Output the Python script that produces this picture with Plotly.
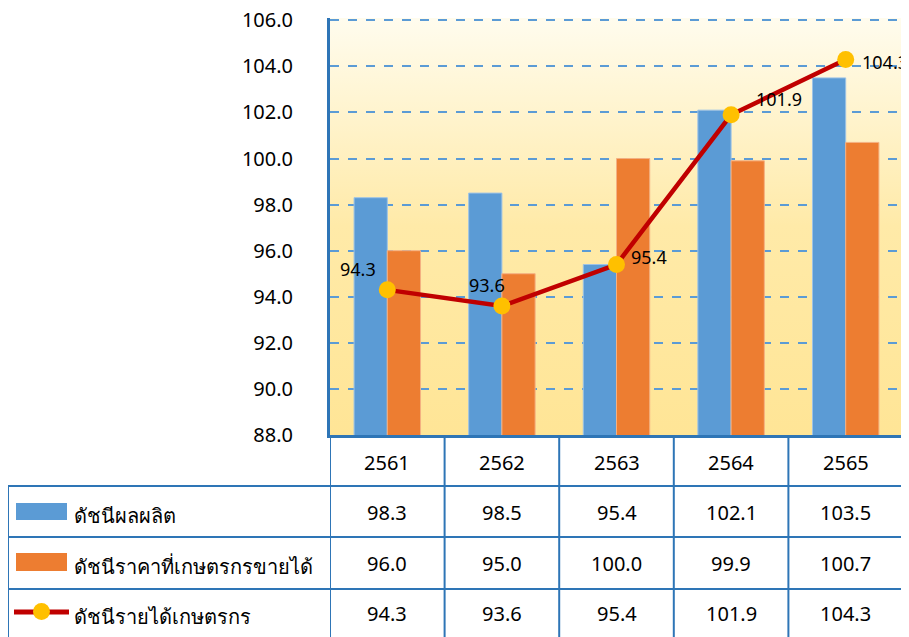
import base64
import plotly.graph_objects as go

years = ["2561", "2562", "2563", "2564", "2565"]
production = [98.3, 98.5, 95.4, 102.1, 103.5]
price = [96.0, 95.0, 100.0, 99.9, 100.7]
income = [94.3, 93.6, 95.4, 101.9, 104.3]
series_names = ["ดัชนีผลผลิต", "ดัชนีราคาที่เกษตรกรขายได้", "ดัชนีรายได้เกษตรกร"]
y_ticks = [88, 90, 92, 94, 96, 98, 100, 102, 104, 106]
y_range = [88, 106.1]

# label offsets (px) for the income labels
label_dx = [-29, -15, 32, 48, 39]
label_dy = [-21, -21, -8, -16, 3]

OFF = 8  # page body margin
W, H = 909 - OFF, 637 - OFF
ML, MT = 330 - OFF, 18 - OFF
MR = W - (903 - OFF)
MB = H - (435 - OFF)
PW, PH = W - ML - MR, H - MT - MB

def px(x):
    return (x - OFF - ML) / PW

def py(y):
    return (H - MB - (y - OFF)) / PH

BLUE = "#5B9BD5"
ORANGE = "#ED7D31"
RED = "#C00000"
YEL = "#FFC000"
BORDER = "#2E75B6"
FONT = "Tahoma, 'Noto Sans', sans-serif"

svg = (
    '<svg xmlns="http://www.w3.org/2000/svg" width="100" height="100" preserveAspectRatio="none">'
    '<defs><linearGradient id="g" x1="0" y1="0" x2="0" y2="1">'
    '<stop offset="0" stop-color="#FFFCEE"/>'
    '<stop offset="0.5" stop-color="#FFEAA8"/>'
    '<stop offset="1" stop-color="#FFE596"/>'
    '</linearGradient></defs>'
    '<rect width="100" height="100" fill="url(#g)"/></svg>'
)
svg_uri = "data:image/svg+xml;base64," + base64.b64encode(svg.encode()).decode()

fig = go.Figure()
fig.add_trace(go.Bar(x=years, y=production, name=series_names[0], marker_color=BLUE,
                     marker_line=dict(color="#9DC3E6", width=1)))
fig.add_trace(go.Bar(x=years, y=price, name=series_names[1], marker_color=ORANGE,
                     marker_line=dict(color="#F4B183", width=1)))
fig.add_trace(go.Scatter(x=years, y=income, name=series_names[2], mode="lines+markers",
                         line=dict(color=RED, width=4.5),
                         marker=dict(color=YEL, size=17)))

for i, v in enumerate(income):
    fig.add_annotation(x=i, y=v, xref="x", yref="y", text=f"{v:.1f}", showarrow=False,
                       xshift=label_dx[i], yshift=-label_dy[i],
                       xanchor="center", yanchor="middle",
                       font=dict(family=FONT, size=18, color="black"))

fig.add_layout_image(dict(source=svg_uri, xref="paper", yref="paper", x=0, y=1,
                          sizex=1, sizey=1, sizing="stretch", layer="below",
                          xanchor="left", yanchor="top"))

line_style = dict(color=BORDER, width=2)
shapes = []
shapes.append(dict(type="line", xref="paper", yref="paper", x0=1, x1=1, y0=0, y1=1,
                   line=dict(color=BORDER, width=1.5)))
n = len(years)
for k in range(n):
    xpos = k - 0.5
    shapes.append(dict(type="line", xref="x", yref="paper", x0=xpos, x1=xpos,
                       y0=py(640), y1=py(436), line=line_style))
shapes.append(dict(type="line", xref="paper", yref="paper", x0=px(8), x1=px(8),
                   y0=py(640), y1=py(486), line=line_style))
for yy in [486, 537, 589]:
    shapes.append(dict(type="line", xref="paper", yref="paper", x0=px(8), x1=1,
                       y0=py(yy), y1=py(yy), line=line_style))
shapes.append(dict(type="rect", xref="paper", yref="paper", x0=px(16), x1=px(67),
                   y0=py(520), y1=py(503), fillcolor=BLUE, line=dict(width=0)))
shapes.append(dict(type="rect", xref="paper", yref="paper", x0=px(16), x1=px(67),
                   y0=py(571), y1=py(553), fillcolor=ORANGE, line=dict(width=0)))
shapes.append(dict(type="line", xref="paper", yref="paper", x0=px(14), x1=px(69),
                   y0=py(612), y1=py(612), line=dict(color=RED, width=5)))
shapes.append(dict(type="circle", xref="paper", yref="paper", x0=px(33), x1=px(50),
                   y0=py(620), y1=py(603), fillcolor=YEL, line=dict(width=0)))
fig.update_layout(shapes=shapes)

row_y = [462, 512, 563, 613]
for i, yr in enumerate(years):
    fig.add_annotation(x=i, y=py(row_y[0]), xref="x", yref="paper", text=yr,
                       showarrow=False, xanchor="center", yanchor="middle",
                       font=dict(family=FONT, size=20, color="black"))
for r, vals in enumerate([production, price, income]):
    for i, v in enumerate(vals):
        fig.add_annotation(x=i, y=py(row_y[r + 1]), xref="x", yref="paper",
                           text=f"{v:.1f}", showarrow=False,
                           xanchor="center", yanchor="middle",
                           font=dict(family=FONT, size=20, color="black"))
    fig.add_annotation(x=px(72), y=py(row_y[r + 1]), xref="paper", yref="paper",
                       text=series_names[r], showarrow=False, xanchor="left",
                       yanchor="middle", yshift=-3,
                       font=dict(family=FONT, size=20, color="black"))

fig.update_layout(
    width=W, height=H,
    margin=dict(l=ML, r=MR, t=MT, b=MB),
    paper_bgcolor="white", plot_bgcolor="rgba(0,0,0,0)",
    barmode="group", bargap=0.42, bargroupgap=0,
    showlegend=False,
    font=dict(family=FONT, color="black"),
    xaxis=dict(type="category", showticklabels=False, showgrid=False, ticks="",
               showline=True, linecolor=BORDER, linewidth=3, zeroline=False,
               range=[-0.5, n - 0.5]),
    yaxis=dict(range=y_range, tickvals=y_ticks, tickformat=".1f", ticks="",
               showgrid=True, gridcolor="#5B9BD5", griddash="dash", gridwidth=1.5,
               showline=True, linecolor=BORDER, linewidth=3, zeroline=False,
               tickfont=dict(family=FONT, size=20, color="black"),
               ticklabelstandoff=30, ticklabeloverflow="allow", automargin=False),
)

fig.write_html("out.html")
